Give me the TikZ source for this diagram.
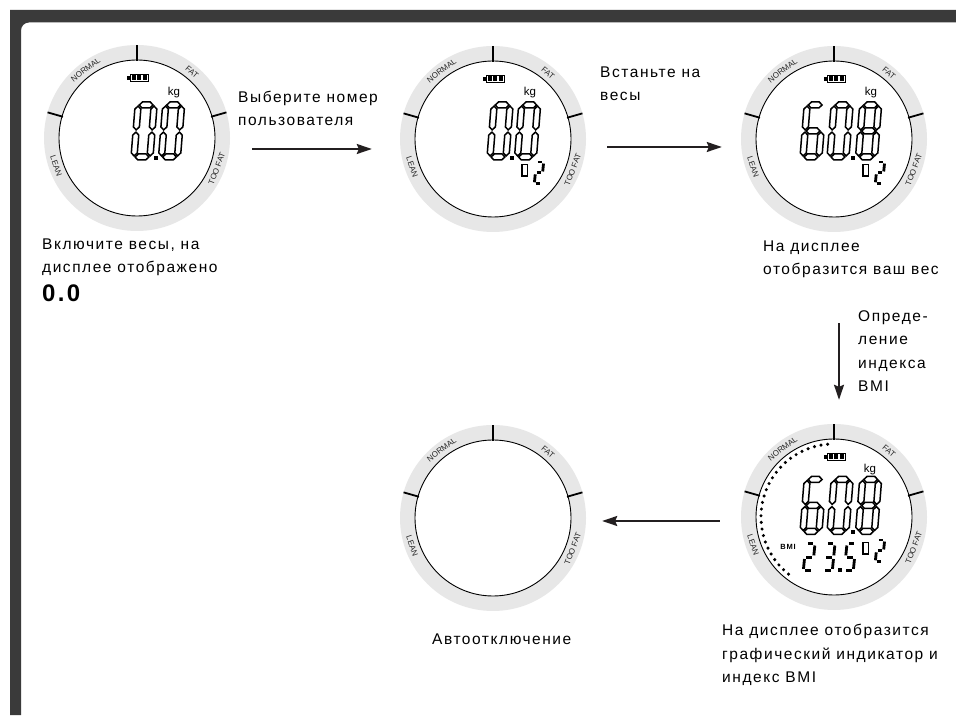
\documentclass[tikz,border=0pt]{standalone}
\usepackage{fontspec}
\setmainfont{Liberation Sans}
\newfontfamily\txtfont{Liberation Sans}[LetterSpace=10]
\usetikzlibrary{arrows.meta}
\definecolor{framegray}{RGB}{58,58,58}
\definecolor{ringgray}{RGB}{231,231,231}
\definecolor{arrowc}{RGB}{35,31,32}

\tikzset{
  ring/.style={circle, fill=ringgray, minimum size=186pt, inner sep=0pt, draw=none},
  tickline/.style={line width=1.8pt, black},
  ringlbl/.style={font=\fontsize{8}{8}\selectfont, text=black!85, inner sep=0pt},
  kglbl/.style={font=\fontsize{11.5}{11.5}\selectfont, inner sep=0pt},
  bmilbl/.style={font=\txtfont\bfseries\fontsize{7.5}{7.5}\selectfont, inner sep=0pt},
  bseg/.style={draw=black, fill=white, line width=1.5pt, line join=miter},
  sseg/.style={draw=black, line width=2.8pt},
  arr/.style={draw=arrowc, line width=1.8pt, -{Stealth[length=15pt,width=10pt,inset=2pt]}},
  caption/.style={font=\txtfont\fontsize{15.5}{23.5}\selectfont, align=left, inner sep=0pt, anchor=base west},
  bigcap/.style={font=\txtfont\bfseries\fontsize{24}{24}\selectfont, inner sep=0pt, anchor=base west},
  dial/.pic={
    \draw[fill=white, line width=0.9pt] (0,0) circle[radius=78];
    \foreach \a in {90,164,16} \draw[tickline] (\a:77) -- (\a:93);
    \node[ringlbl, rotate=37] (-n) at (127:85.5) {NORMAL};
    \node[ringlbl, rotate=-41] (-f) at (50:85.5) {FAT};
    \node[ringlbl, rotate=-71] (-l) at (199:85.5) {LEAN};
    \node[ringlbl, rotate=69] (-t) at (-21:85.5) {TOO FAT};
  }
}

% seven-segment geometry (centre-line box dW x dH, half thickness dh, gap dg)
\def\dW{16}\def\dH{52}\def\dh{3}\def\dg{1.1}
\newcommand\hseg[1]{\draw[bseg] ({\dg},{#1})--({\dg+\dh},{#1+\dh})--({\dW-\dg-\dh},{#1+\dh})--({\dW-\dg},{#1})--({\dW-\dg-\dh},{#1-\dh})--({\dg+\dh},{#1-\dh})--cycle;}
\newcommand\vseg[3]{\draw[bseg] ({#1},{#2+\dg})--({#1+\dh},{#2+\dg+\dh})--({#1+\dh},{#3-\dg-\dh})--({#1},{#3-\dg})--({#1-\dh},{#3-\dg-\dh})--({#1-\dh},{#2+\dg+\dh})--cycle;}
\newcommand\bsega{\hseg{\dH}}
\newcommand\bsegg{\hseg{0.5*\dH}}
\newcommand\bsegd{\hseg{0}}
\newcommand\bsegf{\vseg{0}{0.5*\dH}{\dH}}
\newcommand\bsege{\vseg{0}{0}{0.5*\dH}}
\newcommand\bsegb{\vseg{\dW}{0.5*\dH}{\dH}}
\newcommand\bsegc{\vseg{\dW}{0}{0.5*\dH}}

\newcommand\ssega{\draw[sseg] (1.8,27)--(7.2,27);}
\newcommand\ssegb{\draw[sseg] (9,15.3)--(9,25.2);}
\newcommand\ssegc{\draw[sseg] (9,1.8)--(9,11.7);}
\newcommand\ssegd{\draw[sseg] (1.8,0)--(7.2,0);}
\newcommand\ssege{\draw[sseg] (0,1.8)--(0,11.7);}
\newcommand\ssegf{\draw[sseg] (0,15.3)--(0,25.2);}
\newcommand\ssegg{\draw[sseg] (1.8,13.5)--(7.2,13.5);}

\newcommand\bigdigit[3]{\begin{scope}[shift={(#1,#2)},xslant=0.08]\foreach \s in {#3}{\csname bseg\s\endcsname}\end{scope}}
\newcommand\smalldigit[4][1]{\begin{scope}[shift={(#2,#3)},xslant=0.1,scale=#1]\foreach \s in {#4}{\csname sseg\s\endcsname}\end{scope}}

\newcommand\battery{%
  \fill (-10,58.3) rectangle (-7.5,61.7);
  \draw[line width=1pt] (-7,56.5) rectangle (11.5,63.5);
  \fill (-5.5,57.5) rectangle (-1.5,62.5);
  \fill (0,57.5) rectangle (4,62.5);
  \fill (5.5,57.5) rectangle (9.5,62.5);
}
\newcommand\userind{%
  \draw[line width=1.2pt] (29,-25.5) rectangle (34.5,-37);
  \smalldigit[0.8]{41.3}{-44.7}{a,b,g,e,d}
}

\begin{document}
\begin{tikzpicture}[x=1pt,y=1pt]
\useasboundingbox (0,0) rectangle (956,715);
\fill[white] (0,0) rectangle (956,715);
% frame
\fill[framegray] (10,0) -- (10,705) -- (956,705) -- (956,692.5) -- (29,692.5)
  arc[start angle=90, end angle=180, radius=8] -- (21,0) -- cycle;

% displays
\node[ring] (d1) at (137,577) {};
\node[ring] (d2) at (493,576) {};
\node[ring] (d3) at (834,576) {};
\node[ring] (d4) at (493,197) {};
\node[ring] (d5) at (834,198) {};
\pic (p1) at (d1) {dial};
\pic (p2) at (d2) {dial};
\pic (p3) at (d3) {dial};
\pic (p4) at (d4) {dial};
\pic (p5) at (d5) {dial};

% display 1
\begin{scope}[shift={(d1.center)}]
  \battery
  \node[kglbl] (kg1) at (37,45) {kg};
  \bigdigit{-3}{-19}{a,b,c,d,e,f}
  \fill (16.5,-22) rectangle (20.5,-18);
  \bigdigit{24.5}{-19}{a,b,c,d,e,f}
\end{scope}

% display 2
\begin{scope}[shift={(d2.center)}]
  \battery
  \node[kglbl] (kg2) at (37,46) {kg};
  \bigdigit{-3}{-18}{a,b,c,d,e,f}
  \fill (16.5,-21) rectangle (20.5,-17);
  \bigdigit{24.5}{-18}{a,b,c,d,e,f}
  \userind
\end{scope}

% display 3
\begin{scope}[shift={(d3.center)}]
  \battery
  \node[kglbl] (kg3) at (37,46) {kg};
  \bigdigit{-31}{-18}{a,f,g,e,d,c}
  \bigdigit{-4}{-18}{a,b,c,d,e,f}
  \fill (16.5,-21) rectangle (20.5,-17);
  \bigdigit{24.5}{-18}{a,b,c,d,e,f,g}
  \userind
\end{scope}

% display 5
\begin{scope}[shift={(d5.center)}]
  \battery
  \node[kglbl] (kg5) at (36,47) {kg};
  \bigdigit{-31}{-14.5}{a,f,g,e,d,c}
  \bigdigit{-4}{-14.5}{a,b,c,d,e,f}
  \fill (16.5,-17.5) rectangle (20.5,-13.5);
  \bigdigit{24.5}{-14.5}{a,b,c,d,e,f,g}
  \userind
  \node[bmilbl] (bmi5) at (-46,-29.5) {BMI};
  \smalldigit{-30.7}{-53.7}{a,b,g,e,d}
  \smalldigit{-10.7}{-53.7}{a,b,g,c,d}
  \fill (4,-55) rectangle (7.5,-51.5);
  \smalldigit{10.3}{-53.7}{a,f,g,c,d}
  \foreach \i in {0,...,26} \fill ({95+\i*5.25}:73) circle[radius=1.7];
\end{scope}

% arrows
\draw[arr] ([shift={(22,-11)}]d1.east) -- ([shift={(-28,-10)}]d2.west);
\draw[arr] ([shift={(21,-8)}]d2.east) -- ([shift={(-19,-8)}]d3.west);
\draw[arr] ([shift={(5,-91)}]d3.south) -- ([shift={(5,24)}]d5.north);
\draw[arr] ([shift={(-21,-4)}]d5.west) -- ([shift={(16,-3)}]d4.east);

% captions (anchor = baseline of the last line)
\node[caption] (t1) at (42,442) {Включите весы, на\\дисплее отображено};
\node[bigcap] (t1b) at (42,413) {0.0};
\node[caption] (t2) at (238,589) {Выберите номер\\пользователя};
\node[caption] (t3) at (600,614) {Встаньте на\\весы};
\node[caption] (t4) at (763,440) {На дисплее\\отобразится ваш вес};
\node[caption] (t5) at (858,323) {Опреде-\\ление\\индекса\\BMI};
\node[caption] (t6) at (432,70) {Автоотключение};
\node[caption] (t7) at (722,32) {На дисплее отобразится\\графический индикатор и\\индекс BMI};
\end{tikzpicture}
\end{document}
